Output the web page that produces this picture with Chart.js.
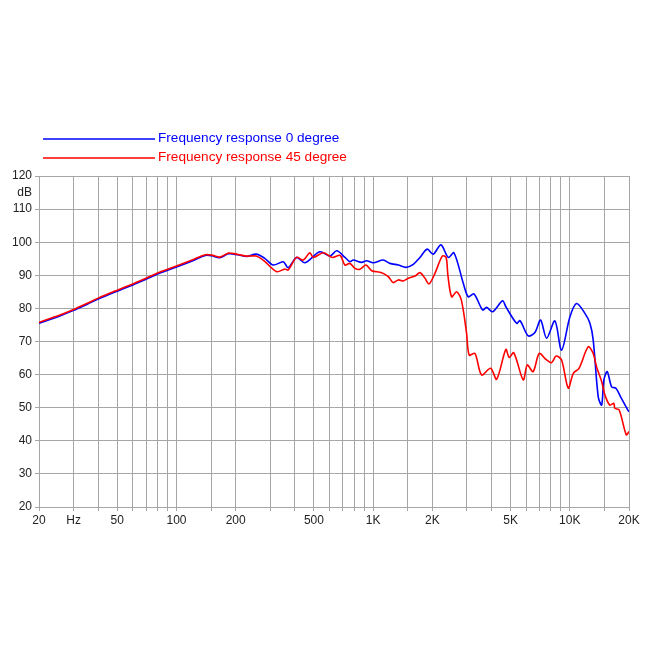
<!DOCTYPE html>
<html>
<head>
<meta charset="utf-8">
<script src="https://cdn.jsdelivr.net/npm/chart.js@4.4.1/dist/chart.umd.min.js"></script>
<style>
  html, body { margin: 0; padding: 0; background: #ffffff; }
  #wrap { width: 650px; height: 650px; }
</style>
</head>
<body>
<div id="wrap"><canvas id="c" width="650" height="650"></canvas></div>
<script>
// ---- data ----
const seriesNames = ["Frequency response 0 degree", "Frequency response 45 degree"];
const seriesColors = ["#0000ff", "#ff0000"];

const freq0 = [20, 25, 30, 35, 40, 50, 60, 70, 82, 100, 122, 140, 151, 166, 184, 205, 228, 254, 280, 311, 349, 370, 408, 450, 536, 603, 653, 719, 762, 792, 874, 927, 1001, 1125, 1217, 1342, 1469, 1600, 1730, 1884, 2021, 2212, 2410, 2577, 2873, 3045, 3255, 3604, 3776, 4050, 4550, 4730, 5365, 5582, 6146, 6646, 7104, 7619, 8398, 9080, 10017, 10830, 11940, 12660, 13150, 13950, 14520, 14910, 15500, 16320, 17160, 18120, 19810, 20000];
const db0 = [75.5, 77.5, 79.4, 81.2, 82.8, 85.2, 87.1, 88.8, 90.6, 92.5, 94.5, 96.0, 95.9, 95.3, 96.5, 96.2, 95.7, 96.4, 95.2, 93.1, 94.1, 92.3, 95.4, 93.8, 97.1, 95.8, 97.4, 95.4, 94.1, 94.6, 93.9, 94.4, 93.8, 94.6, 93.6, 93.1, 92.4, 93.3, 95.4, 97.9, 96.4, 99.2, 95.4, 96.8, 87.6, 83.5, 84.4, 79.5, 80.3, 79.0, 82.3, 80.5, 75.5, 76.3, 71.7, 72.7, 76.5, 71.0, 76.2, 67.4, 77.5, 81.5, 78.5, 75.5, 70.5, 53.3, 50.8, 58.4, 60.9, 56.3, 55.9, 53.3, 49.1, 48.8];

const freq45 = [20, 25, 30, 35, 40, 50, 60, 70, 82, 100, 122, 140, 151, 166, 184, 205, 228, 254, 280, 323, 356, 370, 408, 441, 477, 496, 558, 620, 680, 719, 762, 809, 856, 920, 983, 1105, 1194, 1263, 1342, 1425, 1509, 1635, 1730, 1835, 1925, 2062, 2247, 2350, 2400, 2507, 2658, 2810, 2986, 3079, 3294, 3560, 3958, 4245, 4730, 4915, 5190, 5797, 6077, 6511, 6990, 7558, 8069, 8521, 9080, 9820, 10420, 11140, 12410, 13150, 13700, 14520, 15090, 15970, 16750, 16950, 17830, 19370, 20000];
const db45 = [75.8, 77.8, 79.7, 81.5, 83.1, 85.5, 87.4, 89.1, 90.9, 92.8, 94.8, 96.2, 96.1, 95.5, 96.7, 96.3, 95.8, 95.8, 94.3, 91.1, 91.9, 91.6, 95.4, 94.6, 96.8, 95.4, 96.8, 95.4, 96.0, 93.1, 93.6, 92.1, 91.8, 93.1, 91.4, 90.8, 89.6, 87.8, 88.6, 88.3, 89.1, 89.8, 90.8, 89.1, 87.4, 90.6, 95.8, 95.4, 90.0, 83.5, 85.0, 82.5, 72.5, 65.9, 66.4, 59.9, 61.9, 58.6, 67.6, 65.2, 66.6, 58.4, 62.9, 60.9, 66.4, 64.6, 63.6, 65.6, 64.4, 55.9, 60.4, 61.9, 68.4, 66.4, 62.2, 57.9, 53.8, 50.8, 51.3, 49.8, 49.3, 41.8, 42.8];

const xGridValues = [20, 30, 40, 50, 60, 70, 80, 90, 100, 150, 200, 300, 400, 500, 600, 700, 800, 900, 1000, 1500, 2000, 3000, 4000, 5000, 6000, 7000, 8000, 9000, 10000, 15000, 20000];
const xTickValues = [20, 30, 50, 100, 200, 500, 1000, 2000, 5000, 10000, 20000];
const xTickLabels = ["20", "Hz", "50", "100", "200", "500", "1K", "2K", "5K", "10K", "20K"];
const yTickValues = [20, 30, 40, 50, 60, 70, 80, 90, 100, 110, 120];
const yUnitLabel = "dB";

// ---- chart ----
const FONT = "'Liberation Sans', Arial, Helvetica, sans-serif";
const GRID = "#a6a6a6";

function toPoints(fs, ds) { return fs.map((f, i) => ({ x: f, y: ds[i] })); }

const legendPlugin = {
  id: 'lineLegend',
  afterDraw(chart) {
    const ctx = chart.ctx;
    ctx.save();
    chart.data.datasets.forEach((ds, i) => {
      const y = 139 + i * 19;
      ctx.strokeStyle = ds.borderColor;
      ctx.lineWidth = 1.5;
      ctx.beginPath();
      ctx.moveTo(43, y);
      ctx.lineTo(155, y);
      ctx.stroke();
      ctx.fillStyle = ds.borderColor;
      ctx.font = "13.6px " + FONT;
      ctx.textBaseline = 'middle';
      ctx.textAlign = 'left';
      ctx.fillText(ds.label, 158, y - 1);
    });
    ctx.restore();
  }
};

new Chart(document.getElementById('c'), {
  type: 'line',
  data: {
    datasets: [
      { label: seriesNames[0], data: toPoints(freq0, db0), borderColor: seriesColors[0], backgroundColor: seriesColors[0], borderWidth: 1.6, pointRadius: 0, tension: 0.3, fill: false, order: 1 },
      { label: seriesNames[1], data: toPoints(freq45, db45), borderColor: seriesColors[1], backgroundColor: seriesColors[1], borderWidth: 1.6, pointRadius: 0, tension: 0.3, fill: false, order: 0 }
    ]
  },
  options: {
    responsive: false,
    animation: false,
    devicePixelRatio: 1,
    layout: { padding: { top: 176, right: 21, bottom: 118, left: 0 } },
    plugins: { legend: { display: false }, tooltip: { enabled: false } },
    scales: {
      x: {
        type: 'logarithmic',
        min: 20,
        max: 20000,
        afterBuildTicks: (s) => { s.ticks = xGridValues.map(v => ({ value: v })); },
        afterFit: (s) => { s.height = 25; },
        ticks: {
          autoSkip: false,
          maxRotation: 0,
          minRotation: 0,
          padding: 2,
          color: '#222222',
          font: { family: FONT, size: 12 },
          callback: (v) => { const k = xTickValues.indexOf(v); return k >= 0 ? xTickLabels[k] : ''; }
        },
        grid: { color: GRID, lineWidth: 1, tickLength: 4 },
        border: { color: GRID }
      },
      y: {
        min: 20,
        max: 120,
        afterBuildTicks: (s) => {
          const t = yTickValues.map(v => ({ value: v }));
          t.splice(t.length - 1, 0, { value: 115 });
          s.ticks = t;
        },
        afterFit: (s) => { s.width = 39; },
        ticks: {
          padding: 3,
          color: '#222222',
          font: { family: FONT, size: 12 },
          callback: (v) => (v === 115 ? yUnitLabel : String(v))
        },
        grid: {
          color: (c) => (c.tick && c.tick.value === 115 ? 'rgba(0,0,0,0)' : GRID),
          lineWidth: 1,
          tickLength: 4
        },
        border: { color: GRID }
      }
    }
  },
  plugins: [legendPlugin]
});
</script>
</body>
</html>
